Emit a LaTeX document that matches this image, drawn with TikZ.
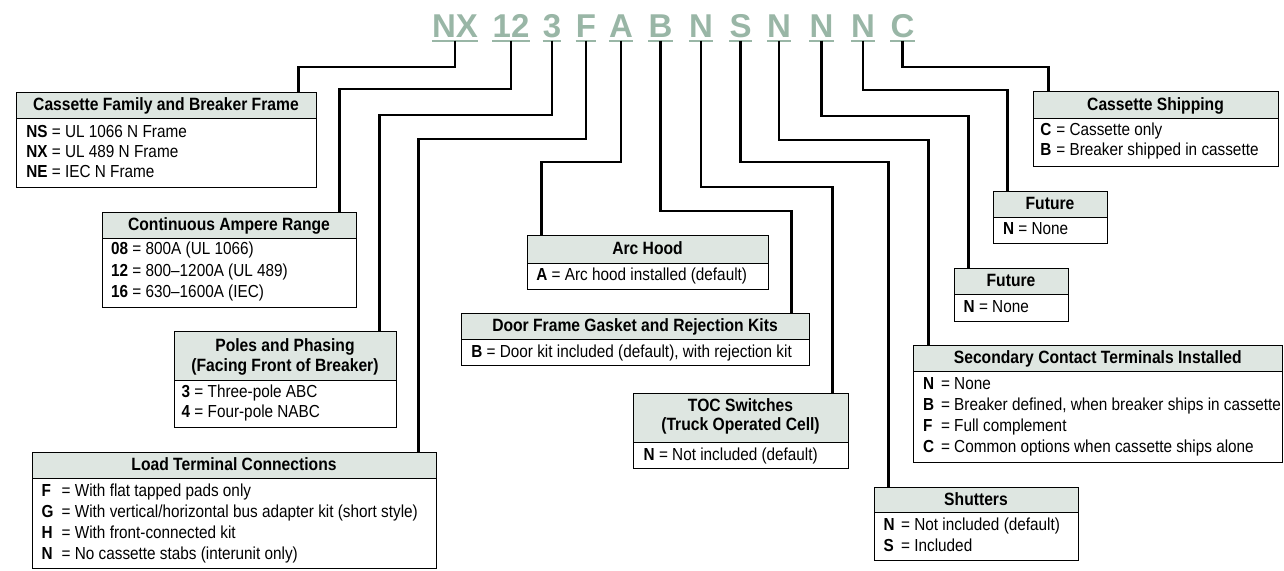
\documentclass[tikz,border=0pt]{standalone}
\usepackage{fontspec}
\setmainfont{Liberation Sans}[FakeStretch=0.88]
\newfontfamily\codefont{Liberation Sans}
\usetikzlibrary{fit,calc}

\definecolor{codegreen}{RGB}{153,182,166}
\definecolor{hdrgray}{RGB}{222,230,225}

\tikzset{
  frame/.style={draw=black, line width=1pt, inner sep=0pt},
  hdr/.style={fill=hdrgray, draw=black, line width=1pt, inner sep=0pt},
  title/.style={font=\fontsize{17.8}{19}\selectfont\bfseries, anchor=base, inner sep=0pt},
  body/.style={font=\fontsize{17.4}{19}\selectfont, anchor=base west, inner sep=0pt},
  code/.style={font=\codefont\fontsize{33}{34}\selectfont\bfseries, text=codegreen, anchor=base,
    inner xsep=0pt, inner ysep=3.5pt, text depth=0pt},
  uline/.style={draw=codegreen, line width=2pt},
  wire/.style={draw=black, line width=2.2pt},
}

% key = value entries; \ka aligns the "=" in a fixed column
\newcommand\kv[2]{\textbf{#1} = #2}
\newcommand\ka[3][18pt]{\makebox[#1][l]{\textbf{#2}}= #3}

% frame and shaded header of an option box: name, x1, y1, x2, header bottom, y2
\newcommand\optbox[6]{%
  \node[frame, fit={(#2,#3) (#4,#6)}] (#1) {};
  \node[hdr, fit={(#2,#3) (#4,#5)}] (#1-h) {};
}
% text of an option box: name, title offset, title spacing, titles,
% body indent, body offset, body spacing, body lines
\newcommand\content[8]{%
  \foreach \tl [count=\k] in {#4}{%
    \node[title] (#1-t\k) at ([yshift={-(#2+0.7+#3*(\k-1))*1pt}]#1.north) {\tl};}
  \foreach \bl [count=\k] in {#8}{%
    \node[body] (#1-r\k) at ([xshift=#5pt, yshift={-(#6+0.7+#7*(\k-1))*1pt}]#1.north west) {\bl};}
}

\begin{document}
\begin{tikzpicture}[x=1pt, y=-1pt]
\useasboundingbox (0,0) rectangle (1284,570);

% catalogue number characters
\foreach \nm/\xx/\tx in {cNX/455/NX, c12/511/12, c3/552/3, cF/586/F, cA/621/A, cB/660.5/B,
    cN1/701/N, cS/740.5/S, cN2/779/N, cN3/821.5/N, cN4/863/N, cC/902.5/C}{
  \node[code] (\nm) at (\xx,37) {\tx};
  \draw[uline] (\nm.south west) -- (\nm.south east);
}

% option boxes
\optbox{fam}{16}{92}{316}{118}{187}
\optbox{amp}{102}{212}{356}{238}{307}
\optbox{pol}{174}{331}{396}{380}{427}
\optbox{load}{32}{452}{436}{478}{568}
\optbox{arc}{527}{235}{768}{263}{289}
\optbox{door}{461}{313}{809}{339}{365}
\optbox{toc}{633}{393}{848}{442}{468}
\optbox{ship}{1033}{91}{1278}{118}{166}
\optbox{futa}{993}{191}{1107}{217}{243}
\optbox{futb}{954}{268}{1068}{294}{321}
\optbox{sec}{913}{345}{1282.5}{371}{462}
\optbox{shut}{874}{487}{1078}{512}{560}

\content{fam}{18.6}{0}{{Cassette Family and Breaker Frame}}{10.7}{45.3}{20}
  {{\kv{NS}{UL 1066 N Frame}},{\kv{NX}{UL 489 N Frame}},{\kv{NE}{IEC N Frame}}}
\content{amp}{18}{0}{{Continuous Ampere Range}}{9.5}{42.3}{21.5}
  {{\kv{08}{800A (UL 1066)}},{\kv{12}{800–1200A (UL 489)}},{\kv{16}{630–1600A (IEC)}}}
\content{pol}{20}{20}{{Poles and Phasing},{(Facing Front of Breaker)}}{8}{66.6}{20}
  {{\kv{3}{Three-pole ABC}},{\kv{4}{Four-pole NABC}}}
\content{load}{18.6}{0}{{Load Terminal Connections}}{10}{44.5}{21}
  {{\ka[20pt]{F}{With flat tapped pads only}},
   {\ka[20pt]{G}{With vertical/horizontal bus adapter kit (short style)}},
   {\ka[20pt]{H}{With front-connected kit}},
   {\ka[20pt]{N}{No cassette stabs (interunit only)}}}
\content{arc}{19.6}{0}{{Arc Hood}}{9.7}{45.5}{0}
  {{\kv{A}{Arc hood installed (default)}}}
\content{door}{18.6}{0}{{Door Frame Gasket and Rejection Kits}}{10.7}{44.5}{0}
  {{\kv{B}{Door kit included (default), with rejection kit}}}
\content{toc}{18.3}{19.3}{{TOC Switches},{(Truck Operated Cell)}}{11}{67.5}{0}
  {{\kv{N}{Not included (default)}}}
\content{ship}{19}{0}{{Cassette Shipping}}{7.7}{44.5}{20}
  {{\ka[16pt]{C}{Cassette only}},{\ka[16pt]{B}{Breaker shipped in cassette}}}
\content{futa}{18.6}{0}{{Future}}{10.3}{43.5}{0}
  {{\kv{N}{None}}}
\content{futb}{18.6}{0}{{Future}}{10}{44.5}{0}
  {{\kv{N}{None}}}
\content{sec}{18.6}{0}{{Secondary Contact Terminals Installed}}{10.3}{44}{21}
  {{\ka{N}{None}},{\ka{B}{Breaker defined, when breaker ships in cassette}},
   {\ka{F}{Full complement}},{\ka{C}{Common options when cassette ships alone}}}
\content{shut}{18}{0}{{Shutters}}{10}{43.5}{21}
  {{\ka[17.5pt]{N}{Not included (default)}},{\ka[17.5pt]{S}{Included}}}

% leader lines from each character to its option box
\draw[wire] (cNX.south) -- ++(0,26.5) -| ([xshift=283pt]fam.north west);
\draw[wire] (c12.south) -- ++(0,48.5) -| ([xshift=238pt]amp.north west);
\draw[wire] (c3.south)  -- ++(0,74.5) -| ([xshift=206pt]pol.north west);
\draw[wire] (cF.south)  -- ++(0,98.5) -| ([xshift=387pt]load.north west);
\draw[wire] (cA.south)  -- ++(0,121.5) -| ([xshift=15pt]arc.north west);
\draw[wire] (cB.south)  -- ++(0,170.5) -| ([xshift=331pt]door.north west);
\draw[wire] (cN1.south) -- ++(0,146.5) -| ([xshift=200pt]toc.north west);
\draw[wire] (cS.south)  -- ++(0,121.5) -| ([xshift=15pt]shut.north west);
\draw[wire] (cN2.south) -- ++(0,99.5) -| ([xshift=16pt]sec.north west);
\draw[wire] (cN3.south) -- ++(0,75.5) -| ([xshift=15pt]futb.north west);
\draw[wire] (cN4.south) -- ++(0,49.5) -| ([xshift=15pt]futa.north west);
\draw[wire] (cC.south)  -- ++(0,26.5) -| ([xshift=16pt]ship.north west);
\end{tikzpicture}
\end{document}
